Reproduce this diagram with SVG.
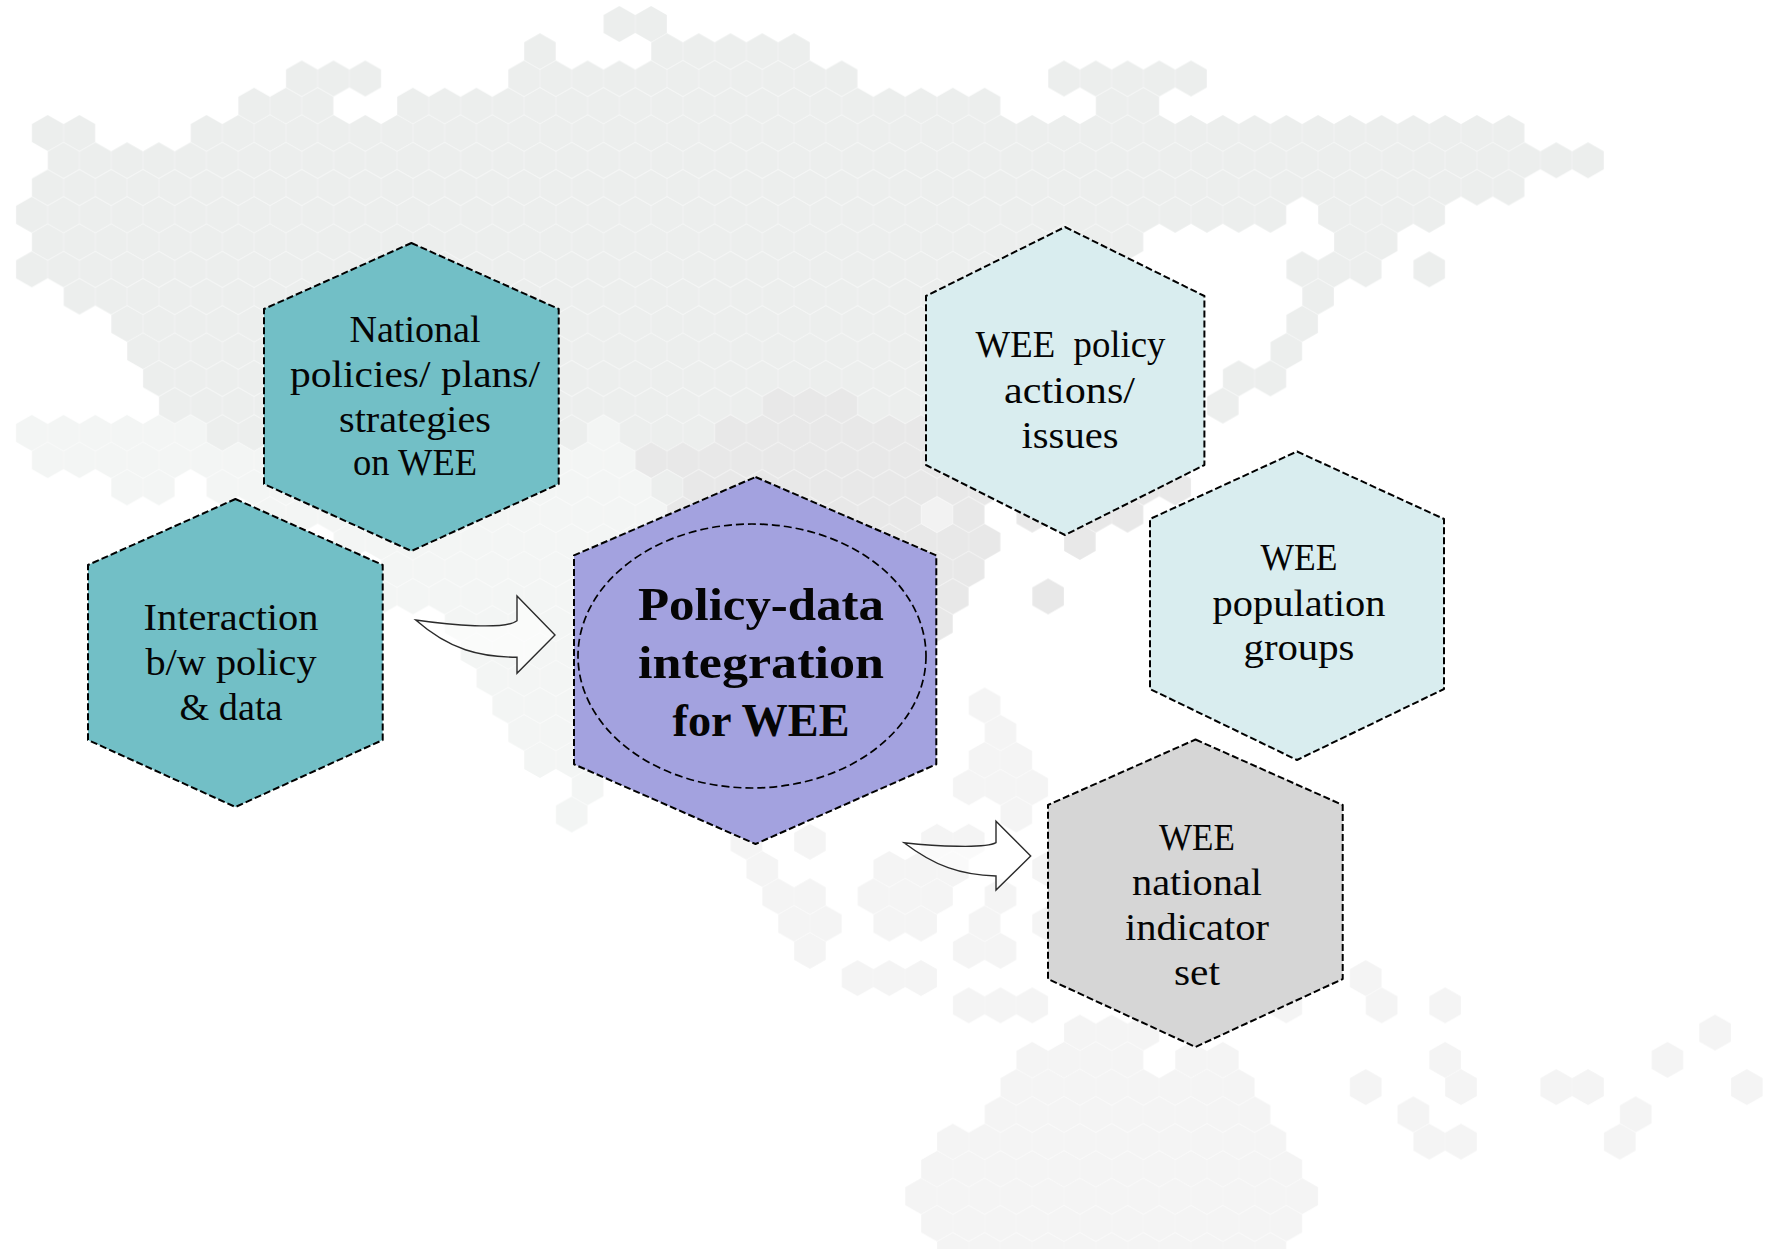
<svg xmlns="http://www.w3.org/2000/svg" width="1765" height="1249" viewBox="0 0 1765 1249">
<style>
.a{fill:url(#pa)}.b{fill:url(#pb)}.c{fill:url(#pc)}.d{fill:url(#pd)}.e{fill:url(#pe)}
#map rect{height:36px}
.hex{stroke:#000;stroke-width:2;stroke-dasharray:7 3;stroke-linejoin:round}
.ell{fill:none;stroke:#000;stroke-width:1.7;stroke-dasharray:8 4}
.teal{fill:#72bfc6}.pale{fill:#d9edef}.grey{fill:#d6d6d6}.violet{fill:#a3a2df}
text{font-family:"Liberation Serif","Times New Roman",serif;font-size:37px;fill:#050505;text-anchor:middle;white-space:pre}
.big{font-size:47px;font-weight:bold}
.arrow{fill:#fff;fill-opacity:.55;stroke:#2b2b2b;stroke-width:1.4;stroke-linejoin:miter}
</style>
<defs>
<polygon id="h" points="0.5,0 0.995,8.9 0.995,27.1 0.5,36 0.005,27.1 0.005,8.9"/>
<pattern id="pa" patternUnits="userSpaceOnUse" width="1" height="36"><use href="#h" fill="#eceeed"/></pattern>
<pattern id="pb" patternUnits="userSpaceOnUse" width="1" height="36"><use href="#h" fill="#f3f5f4"/></pattern>
<pattern id="pc" patternUnits="userSpaceOnUse" width="1" height="36"><use href="#h" fill="#e8e8e8"/></pattern>
<pattern id="pd" patternUnits="userSpaceOnUse" width="1" height="36"><use href="#h" fill="#f4f4f4"/></pattern>
<pattern id="pe" patternUnits="userSpaceOnUse" width="1" height="36"><use href="#h" fill="#f2f2f2"/></pattern>
</defs>
<rect width="1765" height="1249" fill="#fff"/>
<g id="map">
<g transform="translate(31.82,6) scale(31.76,1)"><rect class="a" x="18" width="2"/></g>
<g transform="translate(15.92,33.26) scale(31.76,1)"><rect class="a" x="16" width="1"/><rect class="a" x="20" width="5"/></g>
<g transform="translate(31.82,60.52) scale(31.76,1)"><rect class="a" x="8" width="3"/><rect class="a" x="15" width="11"/><rect class="a" x="32" width="5"/></g>
<g transform="translate(15.92,87.78) scale(31.76,1)"><rect class="a" x="7" width="3"/><rect class="a" x="12" width="19"/><rect class="a" x="34" width="2"/></g>
<g transform="translate(31.82,115.04) scale(31.76,1)"><rect class="a" x="0" width="2"/><rect class="a" x="5" width="42"/></g>
<g transform="translate(15.92,142.3) scale(31.76,1)"><rect class="a" x="1" width="49"/></g>
<g transform="translate(31.82,169.56) scale(31.76,1)"><rect class="a" x="0" width="47"/></g>
<g transform="translate(15.92,196.82) scale(31.76,1)"><rect class="a" x="0" width="40"/><rect class="a" x="41" width="4"/></g>
<g transform="translate(31.82,224.08) scale(31.76,1)"><rect class="a" x="0" width="35"/><rect class="a" x="41" width="2"/></g>
<g transform="translate(15.92,251.34) scale(31.76,1)"><rect class="a" x="0" width="35"/><rect class="a" x="40" width="3"/><rect class="a" x="44" width="1"/></g>
<g transform="translate(31.82,278.6) scale(31.76,1)"><rect class="a" x="1" width="30"/><rect class="a" x="40" width="1"/></g>
<g transform="translate(15.92,305.86) scale(31.76,1)"><rect class="a" x="3" width="28"/><rect class="a" x="40" width="1"/></g>
<g transform="translate(31.82,333.12) scale(31.76,1)"><rect class="a" x="3" width="28"/><rect class="a" x="39" width="1"/></g>
<g transform="translate(15.92,360.38) scale(31.76,1)"><rect class="a" x="4" width="27"/><rect class="a" x="38" width="2"/></g>
<g transform="translate(31.82,387.64) scale(31.76,1)"><rect class="a" x="4" width="19"/><rect class="c" x="23" width="3"/><rect class="a" x="26" width="5"/><rect class="a" x="37" width="1"/></g>
<g transform="translate(15.92,414.9) scale(31.76,1)"><rect class="b" x="0" width="6"/><rect class="a" x="6" width="12"/><rect class="b" x="18" width="1"/><rect class="a" x="19" width="3"/><rect class="c" x="22" width="9"/></g>
<g transform="translate(31.82,442.16) scale(31.76,1)"><rect class="b" x="0" width="19"/><rect class="c" x="19" width="12"/></g>
<g transform="translate(15.92,469.42) scale(31.76,1)"><rect class="b" x="3" width="2"/><rect class="b" x="6" width="14"/><rect class="a" x="20" width="1"/><rect class="c" x="21" width="10"/><rect class="c" x="35" width="2"/></g>
<g transform="translate(31.82,496.68) scale(31.76,1)"><rect class="b" x="7" width="13"/><rect class="c" x="20" width="8"/><rect class="e" x="28" width="1"/><rect class="c" x="29" width="1"/><rect class="c" x="31" width="1"/><rect class="c" x="33" width="2"/></g>
<g transform="translate(15.92,523.94) scale(31.76,1)"><rect class="b" x="10" width="10"/><rect class="c" x="26" width="5"/><rect class="c" x="33" width="1"/></g>
<g transform="translate(31.82,551.2) scale(31.76,1)"><rect class="b" x="11" width="7"/><rect class="c" x="28" width="2"/></g>
<g transform="translate(15.92,578.46) scale(31.76,1)"><rect class="b" x="11" width="7"/><rect class="c" x="29" width="1"/><rect class="c" x="32" width="1"/></g>
<g transform="translate(31.82,605.72) scale(31.76,1)"><rect class="b" x="13" width="5"/><rect class="c" x="28" width="1"/></g>
<g transform="translate(15.92,632.98) scale(31.76,1)"><rect class="b" x="14" width="4"/></g>
<g transform="translate(31.82,660.24) scale(31.76,1)"><rect class="b" x="14" width="4"/></g>
<g transform="translate(15.92,687.5) scale(31.76,1)"><rect class="b" x="15" width="3"/><rect class="d" x="30" width="1"/></g>
<g transform="translate(31.82,714.76) scale(31.76,1)"><rect class="b" x="15" width="3"/><rect class="d" x="30" width="1"/></g>
<g transform="translate(15.92,742.02) scale(31.76,1)"><rect class="b" x="16" width="2"/><rect class="d" x="30" width="2"/></g>
<g transform="translate(31.82,769.28) scale(31.76,1)"><rect class="b" x="17" width="1"/><rect class="d" x="29" width="3"/></g>
<g transform="translate(15.92,796.54) scale(31.76,1)"><rect class="b" x="17" width="1"/><rect class="d" x="31" width="1"/></g>
<g transform="translate(31.82,823.8) scale(31.76,1)"><rect class="d" x="22" width="1"/><rect class="d" x="24" width="1"/><rect class="d" x="28" width="2"/></g>
<g transform="translate(15.92,851.06) scale(31.76,1)"><rect class="d" x="23" width="1"/><rect class="d" x="27" width="3"/><rect class="d" x="32" width="1"/></g>
<g transform="translate(31.82,878.32) scale(31.76,1)"><rect class="d" x="23" width="2"/><rect class="d" x="26" width="3"/><rect class="d" x="30" width="1"/></g>
<g transform="translate(15.92,905.58) scale(31.76,1)"><rect class="d" x="24" width="2"/><rect class="d" x="27" width="2"/><rect class="d" x="30" width="1"/><rect class="d" x="32" width="1"/></g>
<g transform="translate(31.82,932.84) scale(31.76,1)"><rect class="d" x="24" width="1"/><rect class="d" x="29" width="2"/></g>
<g transform="translate(15.92,960.1) scale(31.76,1)"><rect class="d" x="26" width="3"/><rect class="d" x="42" width="1"/></g>
<g transform="translate(31.82,987.36) scale(31.76,1)"><rect class="d" x="29" width="3"/><rect class="d" x="39" width="1"/><rect class="d" x="42" width="1"/><rect class="d" x="44" width="1"/></g>
<g transform="translate(15.92,1014.62) scale(31.76,1)"><rect class="d" x="33" width="3"/><rect class="d" x="53" width="1"/></g>
<g transform="translate(31.82,1041.88) scale(31.76,1)"><rect class="d" x="31" width="4"/><rect class="d" x="36" width="2"/><rect class="d" x="44" width="1"/><rect class="d" x="51" width="1"/></g>
<g transform="translate(15.92,1069.14) scale(31.76,1)"><rect class="d" x="31" width="8"/><rect class="d" x="42" width="1"/><rect class="d" x="45" width="1"/><rect class="d" x="48" width="2"/><rect class="d" x="54" width="1"/></g>
<g transform="translate(31.82,1096.4) scale(31.76,1)"><rect class="d" x="30" width="9"/><rect class="d" x="43" width="1"/><rect class="d" x="50" width="1"/></g>
<g transform="translate(15.92,1123.66) scale(31.76,1)"><rect class="d" x="29" width="11"/><rect class="d" x="44" width="2"/><rect class="d" x="50" width="1"/></g>
<g transform="translate(31.82,1150.92) scale(31.76,1)"><rect class="d" x="28" width="12"/></g>
<g transform="translate(15.92,1178.18) scale(31.76,1)"><rect class="d" x="28" width="13"/></g>
<g transform="translate(31.82,1205.44) scale(31.76,1)"><rect class="d" x="28" width="12"/></g>
<g transform="translate(15.92,1232.7) scale(31.76,1)"><rect class="d" x="29" width="11"/></g>
</g>
<g id="connectors">
<path class="arrow" d="M415.7,620 C450,625 505,630 517,620.7 L517,596 L555,635 L517,673.3 L517,657.3 C480,657 450,650 415.7,620Z"/>
<path class="arrow" d="M904,842.7 C935,846 985,849 996,842.7 L996,821.3 L1030.7,856 L996,890 L996,876 C960,875 935,866 904,842.7Z"/>
</g>
<g id="node-national">
<polygon class="hex teal" points="411.4,243 558.7,309 558.7,484 411.4,551 264,484 264,309"/>
<text x="415" y="342" textLength="131" lengthAdjust="spacingAndGlyphs">National</text>
<text x="415" y="387" textLength="250" lengthAdjust="spacingAndGlyphs">policies/ plans/</text>
<text x="415" y="432" textLength="152" lengthAdjust="spacingAndGlyphs">strategies</text>
<text x="415" y="475" textLength="124" lengthAdjust="spacingAndGlyphs">on WEE</text>
</g>
<g id="node-interaction">
<polygon class="hex teal" points="235.4,499 382.7,565 382.7,740 235.4,807 88,740 88,565"/>
<text x="231" y="630" textLength="175" lengthAdjust="spacingAndGlyphs">Interaction</text>
<text x="231" y="675" textLength="171" lengthAdjust="spacingAndGlyphs">b/w policy</text>
<text x="231" y="720" textLength="103" lengthAdjust="spacingAndGlyphs">&amp; data</text>
</g>
<g id="node-integration">
<polygon class="hex violet" points="755.5,477 936.3,555.4 936.3,764.3 755.5,844 574,764.3 574,555.4"/>
<ellipse class="ell" cx="752" cy="656" rx="174" ry="132"/>
<text class="big" x="761" y="619.5" textLength="246" lengthAdjust="spacingAndGlyphs">Policy-data</text>
<text class="big" x="761" y="678" textLength="246" lengthAdjust="spacingAndGlyphs">integration</text>
<text class="big" x="761" y="735.5" textLength="177" lengthAdjust="spacingAndGlyphs">for WEE</text>
</g>
<g id="node-policy-actions">
<polygon class="hex pale" points="1065,227 1204.4,296 1204.4,465 1065,535 926,465 926,296"/>
<text x="1070.5" y="357" textLength="190" lengthAdjust="spacingAndGlyphs">WEE  policy</text>
<text x="1069.5" y="403" textLength="131" lengthAdjust="spacingAndGlyphs">actions/</text>
<text x="1070" y="448" textLength="97" lengthAdjust="spacingAndGlyphs">issues</text>
</g>
<g id="node-population">
<polygon class="hex pale" points="1297,451.5 1444,519 1444,689 1297,760 1150,689 1150,519"/>
<text x="1299" y="570" textLength="77" lengthAdjust="spacingAndGlyphs">WEE</text>
<text x="1299" y="616" textLength="173" lengthAdjust="spacingAndGlyphs">population</text>
<text x="1299" y="660" textLength="111" lengthAdjust="spacingAndGlyphs">groups</text>
</g>
<g id="node-indicator">
<polygon class="hex grey" points="1195.5,739.5 1342.7,805 1342.7,979 1195.5,1047 1048,979 1048,805"/>
<text x="1197" y="850" textLength="76" lengthAdjust="spacingAndGlyphs">WEE</text>
<text x="1197" y="895" textLength="130" lengthAdjust="spacingAndGlyphs">national</text>
<text x="1197" y="940" textLength="144" lengthAdjust="spacingAndGlyphs">indicator</text>
<text x="1197" y="985" textLength="46" lengthAdjust="spacingAndGlyphs">set</text>
</g>
</svg>
